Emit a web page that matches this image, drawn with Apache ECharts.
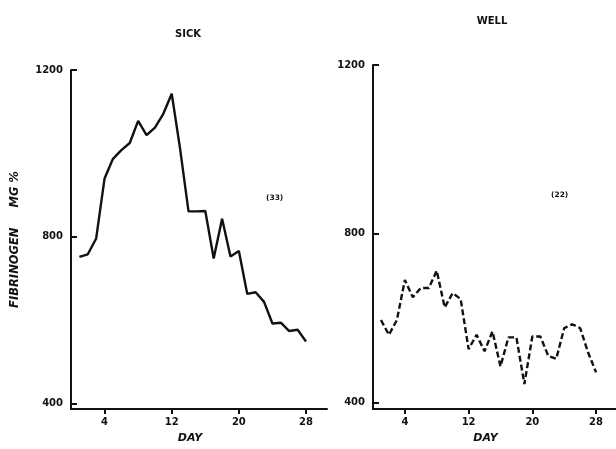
<!DOCTYPE html>
<html>
<head>
<meta charset="utf-8">
<script src="https://cdn.jsdelivr.net/npm/echarts@6/dist/echarts.min.js"></script>
<style>
html,body{margin:0;padding:0;background:#fff;}
#chart{width:616px;height:449px;}
</style>
</head>
<body>
<div id="chart"></div>
<script>
const days = [1,2,3,4,5,6,7,8,9,10,11,12,13,14,15,16,17,18,19,20,21,22,23,24,25,26,27,28];
const sickValues = [752,758,796,940,987,1008,1025,1078,1044,1062,1095,1143,1011,861,861,862,748,843,753,766,663,667,644,592,594,574,577,549];
const wellValues = [595,560,595,690,649,671,671,712,625,659,645,526,560,521,568,485,554,554,443,556,556,510,503,576,585,576,518,471];
const yTicks = [400, 800, 1200];
const xTicks = [4, 12, 20, 28];
const panelTitles = ['SICK', 'WELL'];
const sampleCounts = ['(33)', '(22)'];

const ink = '#111';
const fontFam = '"DejaVu Sans", "Liberation Sans", sans-serif';

function xAxisCfg(gridIndex) {
  return {
    type: 'value', gridIndex: gridIndex, min: 0, max: 30.5,
    name: 'DAY', nameLocation: 'middle', nameGap: 24,
    nameTextStyle: {fontFamily: fontFam, fontStyle: 'italic', fontWeight: 'bold', fontSize: 11, color: ink, padding: [0, 18, 0, 0]},
    axisLine: {show: true, onZero: false, lineStyle: {color: ink, width: 2}},
    axisTick: {show: true, inside: false, length: 5, customValues: xTicks, lineStyle: {color: ink, width: 2}},
    axisLabel: {show: true, margin: 8, customValues: xTicks, formatter: v => String(v), fontFamily: fontFam, fontWeight: 'bold', fontSize: 10, color: ink},
    splitLine: {show: false}
  };
}
function yAxisCfg(gridIndex, min, withName) {
  return {
    type: 'value', gridIndex: gridIndex, min: min, max: 1200,
    name: withName ? 'FIBRINOGEN     MG %' : '', nameLocation: 'middle', nameGap: 50, nameRotate: 90,
    nameTextStyle: {fontFamily: fontFam, fontStyle: 'italic', fontWeight: 'bold', fontSize: 11.5, color: ink},
    axisLine: {show: true, onZero: false, lineStyle: {color: ink, width: 2}},
    axisTick: {show: true, inside: true, length: 6, customValues: yTicks, lineStyle: {color: ink, width: 2}},
    axisLabel: {show: true, margin: 8, customValues: yTicks, formatter: v => String(v), fontFamily: fontFam, fontWeight: 'bold', fontSize: 10, color: ink},
    splitLine: {show: false}
  };
}

const chart = echarts.init(document.getElementById('chart'), null, {renderer: 'canvas'});
chart.setOption({
  backgroundColor: '#fff',
  animation: false,
  title: [
    {text: panelTitles[0], left: 183, top: 24, textAlign: 'center', textStyle: {fontFamily: fontFam, fontWeight: 'bold', fontSize: 10, color: ink}},
    {text: panelTitles[1], left: 487, top: 11, textAlign: 'center', textStyle: {fontFamily: fontFam, fontWeight: 'bold', fontSize: 10, color: ink}}
  ],
  grid: [
    {left: 71, top: 70, width: 256, height: 343},
    {left: 373, top: 65, width: 256, height: 347}
  ],
  xAxis: [xAxisCfg(0), xAxisCfg(1)],
  yAxis: [yAxisCfg(0, 387, true), yAxisCfg(1, 384, false)],
  series: [
    {type: 'line', xAxisIndex: 0, yAxisIndex: 0, data: days.map((d, i) => [d, sickValues[i]]),
     showSymbol: false, lineStyle: {color: ink, width: 2.4, type: 'solid'}},
    {type: 'line', xAxisIndex: 1, yAxisIndex: 1, data: days.map((d, i) => [d, wellValues[i]]),
     showSymbol: false, lineStyle: {color: ink, width: 2.4, type: [6, 3]}}
  ],
  graphic: [
    {type: 'text', left: 266, top: 194, style: {text: sampleCounts[0], font: 'bold 7.5px ' + fontFam, fill: ink}},
    {type: 'text', left: 551, top: 191, style: {text: sampleCounts[1], font: 'bold 7.5px ' + fontFam, fill: ink}}
  ]
});
</script>
</body>
</html>
